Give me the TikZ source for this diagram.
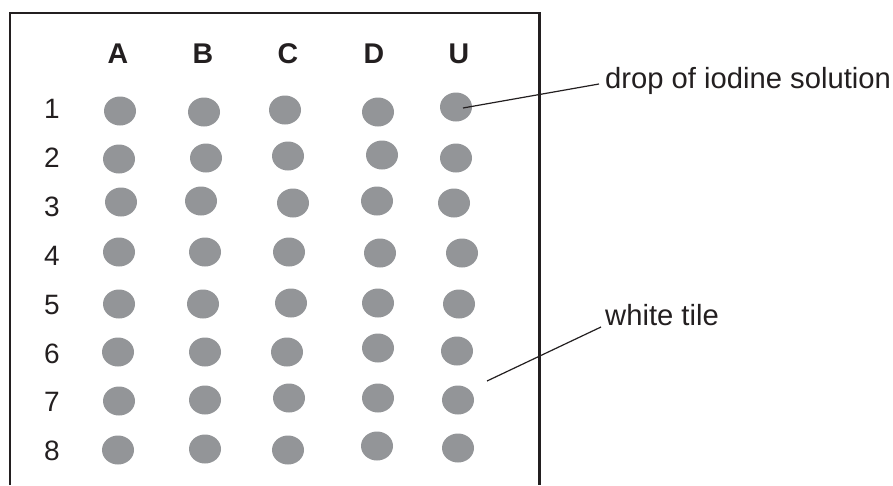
\documentclass[tikz,border=0pt]{standalone}
\usepackage{fontspec}
\setmainfont{Liberation Sans}
\usetikzlibrary{shapes.geometric}
\definecolor{dotgray}{RGB}{147,149,152}
\definecolor{ink}{RGB}{35,31,32}
\begin{document}
\begin{tikzpicture}[x=1pt,y=-1pt,
  dot/.style={ellipse,fill=dotgray,inner sep=0pt,minimum width=32pt,minimum height=29pt},
  collabel/.style={anchor=base,font=\fontsize{28.5}{32}\selectfont\bfseries,text=ink,inner sep=0pt},
  rowlabel/.style={anchor=base,font=\fontsize{28}{32}\selectfont,text=ink,inner sep=0pt},
  sidelabel/.style={anchor=base west,font=\fontsize{29.2}{33}\selectfont,text=ink,inner sep=0pt},
  frame/.style={draw=ink,line width=2.6pt},
  leader/.style={draw=ink,line width=1.2pt}]
\useasboundingbox (0,0) rectangle (893,485);
\fill[white] (0,0) rectangle (893,485);
% tile
\draw[frame] (10,485) -- (10,13) -- (539.5,13) -- (539.5,485);
% column labels
\node[collabel] (cA) at (118,63) {A};
\node[collabel] (cB) at (203,63) {B};
\node[collabel] (cC) at (288,63) {C};
\node[collabel] (cD) at (374,63) {D};
\node[collabel] (cU) at (459,63) {U};
% row labels
\foreach \r/\yb in {1/118,2/167,3/216,4/265,5/314,6/363,7/411,8/460}
  \node[rowlabel] (r\r) at (52,\yb) {\r};
% dots
\foreach \c/\x/\y [count=\i] in {
  A1/120/111, B1/204/112, C1/285/110, D1/378/112, U1/456/107,
  A2/119/159, B2/206/158, C2/288/156, D2/382/155, U2/456/158,
  A3/121/202, B3/201/201, C3/293/203, D3/377/201, U3/454/203,
  A4/119/252, B4/205/252, C4/289/252, D4/380/253, U4/462/253,
  A5/119/304, B5/203/304, C5/291/303, D5/378/303, U5/459/304,
  A6/118/352, B6/205/352, C6/287/352, D6/378/348, U6/457/351,
  A7/119/401, B7/205/400, C7/289/398, D7/378/398, U7/458/400,
  A8/118/450, B8/205/449, C8/288/450, D8/377/446, U8/458/448}
  \node[dot] (d\c) at (\x,\y) {};
% labels
\node[sidelabel] (drop) at (605,88) {drop of iodine solution};
\node[sidelabel] (tile) at (605,325) {white tile};
\coordinate (l1a) at (463,108);
\coordinate (l1b) at (599,84);
\coordinate (l2a) at (487,381);
\coordinate (l2b) at (601,327);
\draw[leader] (l1a) -- (l1b);
\draw[leader] (l2a) -- (l2b);
\end{tikzpicture}
\end{document}
